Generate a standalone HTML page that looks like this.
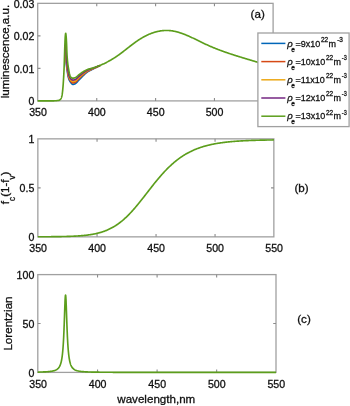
<!DOCTYPE html><html><head><meta charset="utf-8"><style>html,body{margin:0;padding:0;background:#fff;width:350px;height:406px;overflow:hidden}svg{display:block;font-family:"Liberation Sans",sans-serif}</style></head><body>
<svg width="350" height="406" viewBox="0 0 350 406">
<defs><filter id="bl" x="0" y="0" width="100%" height="100%" filterUnits="userSpaceOnUse"><feGaussianBlur stdDeviation="0.28"/></filter></defs>
<rect width="350" height="406" fill="#fff"/>
<g filter="url(#bl)"><style>text{stroke:#111111;stroke-width:0.3px;paint-order:stroke}</style>
<text x="38" y="115.55" text-anchor="middle" font-size="10.6" fill="#111111">350</text>
<text x="96.85" y="115.55" text-anchor="middle" font-size="10.6" fill="#111111">400</text>
<text x="155.7" y="115.55" text-anchor="middle" font-size="10.6" fill="#111111">450</text>
<text x="214.55" y="115.55" text-anchor="middle" font-size="10.6" fill="#111111">500</text>
<text x="273.4" y="115.55" text-anchor="middle" font-size="10.6" fill="#111111">550</text>
<text x="34.3" y="105.24" text-anchor="end" font-size="10.6" fill="#111111">0</text>
<text x="34.3" y="72.73" text-anchor="end" font-size="10.6" fill="#111111">0.01</text>
<text x="34.3" y="40.21" text-anchor="end" font-size="10.6" fill="#111111">0.02</text>
<text x="34.3" y="7.69" text-anchor="end" font-size="10.6" fill="#111111">0.03</text>
<rect x="37.7" y="3.35" width="235.4" height="97.55" fill="none" stroke="#a0a0a0" stroke-width="1.3"/>
<path d="M96.75 100.9V98.1M96.75 3.35V6.15" stroke="#8c8c8c" stroke-width="1.1" fill="none"/>
<path d="M155.6 100.9V98.1M155.6 3.35V6.15" stroke="#8c8c8c" stroke-width="1.1" fill="none"/>
<path d="M214.45 100.9V98.1M214.45 3.35V6.15" stroke="#8c8c8c" stroke-width="1.1" fill="none"/>
<path d="M37.7 68.38H40.5M273.1 68.38H270.3" stroke="#8c8c8c" stroke-width="1.1" fill="none"/>
<path d="M37.7 35.87H40.5M273.1 35.87H270.3" stroke="#8c8c8c" stroke-width="1.1" fill="none"/>
<path d="M64.9 48L65 48L65.1 48L65.2 48L65.3 48L65.4 48L65.5 48L65.6 48L65.7 48L65.8 48L65.9 51.05L66 56.91L66.1 59.93L66.2 61.89L66.3 63.33L66.4 64.48L66.5 65.46L66.6 66.34L66.7 67.15L66.8 67.91L66.9 68.63L67 69.34L67.1 70.03L67.2 70.71L67.3 71.4L67.4 72.08L67.5 72.76L67.6 73.41L67.7 74.04L67.8 74.65L67.9 75.22L68 75.75L68.1 76.23L68.2 76.67L68.3 77.07L68.4 77.46L68.5 77.85L68.6 78.22L68.7 78.56L68.8 78.87L68.9 79.16L69 79.43L69.1 79.68L69.2 79.91L69.3 80.13L69.4 80.33L69.5 80.53L69.6 80.71L69.7 80.89L69.8 81.06L69.9 81.23L70 81.39L70.1 81.55L70.2 81.71L70.3 81.86L70.4 82.01L70.5 82.16L70.6 82.3L70.7 82.43L70.8 82.56L70.9 82.69L71 82.82L71.1 82.95L71.2 83.08L71.3 83.2L71.4 83.32L71.5 83.44L71.6 83.56L71.7 83.66L71.8 83.77L71.9 83.87L72 83.96L72.1 84.04L72.2 84.12L72.3 84.18L72.4 84.24L72.5 84.3L72.6 84.34L72.7 84.37L72.8 84.39L72.9 84.4L73 84.4L73.1 84.39L73.2 84.38L73.3 84.37L73.4 84.36L73.5 84.34L73.6 84.32L73.7 84.3L73.8 84.27L73.9 84.24L74 84.21L74.1 84.18L74.2 84.15L74.3 84.11L74.4 84.07L74.5 84.04L74.6 84L74.7 83.95L74.8 83.91L74.9 83.87L75 83.82L75.1 83.78L75.2 83.73L75.3 83.68L75.4 83.62L75.5 83.56L75.6 83.5L75.7 83.43L75.8 83.35L75.9 83.27L76 83.19L76.5 82.73L77 82.21L77.5 81.65L78 81.07L78.5 80.5L79 79.96L79.5 79.44L80 78.92L80.5 78.39L81 77.87L81.5 77.34L82 76.82L82.5 76.3L83 75.8L83.5 75.32L84 74.85L84.5 74.38L85 73.92L85.5 73.48L86 73.05L86.5 72.65L87 72.27L87.5 71.92L88 71.6L88.5 71.29L89 71.01L89.5 70.75L90 70.49L90.5 70.25L91 70L91.5 69.75L92 69.5L92.5 69.25L93 69L93.5 68.75L94 68.5L94.5 68.26L95 68.01L95.5 67.77L96 67.54L96.5 67.3L97 67.06L97.5 66.83L98 66.59L98.5 66.36L99 66.13L99.5 65.89L100 65.66" fill="none" stroke="#0066B8" stroke-width="1.65" stroke-linejoin="round"/>
<path d="M64.9 46.5L65 46.5L65.1 46.5L65.2 46.5L65.3 46.5L65.4 46.5L65.5 46.5L65.6 46.5L65.7 46.5L65.8 46.5L65.9 46.5L66 53.25L66.1 56.94L66.2 59.18L66.3 60.79L66.4 62.06L66.5 63.15L66.6 64.13L66.7 65.02L66.8 65.86L66.9 66.64L67 67.39L67.1 68.1L67.2 68.8L67.3 69.47L67.4 70.14L67.5 70.81L67.6 71.48L67.7 72.14L67.8 72.79L67.9 73.42L68 74.02L68.1 74.59L68.2 75.13L68.3 75.61L68.4 76.05L68.5 76.44L68.6 76.81L68.7 77.16L68.8 77.48L68.9 77.78L69 78.06L69.1 78.32L69.2 78.57L69.3 78.8L69.4 79.01L69.5 79.22L69.6 79.41L69.7 79.6L69.8 79.78L69.9 79.95L70 80.12L70.1 80.29L70.2 80.45L70.3 80.6L70.4 80.75L70.5 80.89L70.6 81.03L70.7 81.16L70.8 81.28L70.9 81.39L71 81.51L71.1 81.62L71.2 81.73L71.3 81.84L71.4 81.95L71.5 82.06L71.6 82.16L71.7 82.25L71.8 82.34L71.9 82.43L72 82.51L72.1 82.58L72.2 82.65L72.3 82.71L72.4 82.76L72.5 82.81L72.6 82.85L72.7 82.87L72.8 82.89L72.9 82.9L73 82.9L73.1 82.89L73.2 82.89L73.3 82.87L73.4 82.86L73.5 82.84L73.6 82.82L73.7 82.8L73.8 82.78L73.9 82.75L74 82.72L74.1 82.69L74.2 82.66L74.3 82.62L74.4 82.59L74.5 82.55L74.6 82.51L74.7 82.47L74.8 82.43L74.9 82.39L75 82.35L75.1 82.31L75.2 82.26L75.3 82.22L75.4 82.16L75.5 82.1L75.6 82.04L75.7 81.97L75.8 81.9L75.9 81.83L76 81.75L76.5 81.31L77 80.82L77.5 80.28L78 79.73L78.5 79.19L79 78.68L79.5 78.2L80 77.72L80.5 77.23L81 76.74L81.5 76.25L82 75.77L82.5 75.3L83 74.84L83.5 74.4L84 73.97L84.5 73.55L85 73.13L85.5 72.73L86 72.34L86.5 71.98L87 71.64L87.5 71.33L88 71.04L88.5 70.78L89 70.53L89.5 70.3L90 70.08L90.5 69.86L91 69.64L91.5 69.42L92 69.2L92.5 68.98L93 68.75L93.5 68.52L94 68.29L94.5 68.07L95 67.84L95.5 67.62L96 67.39L96.5 67.17L97 66.95L97.5 66.72L98 66.5L98.5 66.28L99 66.05L99.5 65.83L100 65.6" fill="none" stroke="#D64A12" stroke-width="1.65" stroke-linejoin="round"/>
<path d="M64.9 45.5L65 45.5L65.1 45.5L65.2 45.5L65.3 45.5L65.4 45.5L65.5 45.5L65.6 45.5L65.7 45.5L65.8 45.5L65.9 45.5L66 48.81L66.1 53.81L66.2 56.49L66.3 58.34L66.4 59.8L66.5 61.02L66.6 62.09L66.7 63.08L66.8 64L66.9 64.85L67 65.66L67.1 66.42L67.2 67.14L67.3 67.84L67.4 68.52L67.5 69.18L67.6 69.83L67.7 70.49L67.8 71.14L67.9 71.78L68 72.41L68.1 73.02L68.2 73.61L68.3 74.16L68.4 74.67L68.5 75.14L68.6 75.55L68.7 75.9L68.8 76.22L68.9 76.52L69 76.81L69.1 77.08L69.2 77.33L69.3 77.57L69.4 77.79L69.5 78L69.6 78.21L69.7 78.4L69.8 78.59L69.9 78.77L70 78.94L70.1 79.11L70.2 79.27L70.3 79.42L70.4 79.57L70.5 79.71L70.6 79.84L70.7 79.97L70.8 80.08L70.9 80.19L71 80.29L71.1 80.38L71.2 80.48L71.3 80.58L71.4 80.67L71.5 80.76L71.6 80.85L71.7 80.93L71.8 81.01L71.9 81.09L72 81.16L72.1 81.23L72.2 81.28L72.3 81.34L72.4 81.38L72.5 81.42L72.6 81.45L72.7 81.48L72.8 81.49L72.9 81.5L73 81.5L73.1 81.49L73.2 81.49L73.3 81.47L73.4 81.46L73.5 81.44L73.6 81.43L73.7 81.4L73.8 81.38L73.9 81.35L74 81.33L74.1 81.3L74.2 81.27L74.3 81.23L74.4 81.2L74.5 81.16L74.6 81.13L74.7 81.09L74.8 81.05L74.9 81.01L75 80.98L75.1 80.94L75.2 80.89L75.3 80.85L75.4 80.8L75.5 80.74L75.6 80.68L75.7 80.62L75.8 80.55L75.9 80.48L76 80.41L76.5 79.99L77 79.51L77.5 79L78 78.48L78.5 77.97L79 77.49L79.5 77.04L80 76.59L80.5 76.14L81 75.68L81.5 75.23L82 74.79L82.5 74.36L83 73.94L83.5 73.54L84 73.15L84.5 72.77L85 72.4L85.5 72.03L86 71.68L86.5 71.36L87 71.06L87.5 70.78L88 70.53L88.5 70.3L89 70.08L89.5 69.88L90 69.69L90.5 69.5L91 69.31L91.5 69.12L92 68.92L92.5 68.72L93 68.51L93.5 68.3L94 68.09L94.5 67.89L95 67.68L95.5 67.47L96 67.26L96.5 67.05L97 66.84L97.5 66.63L98 66.41L98.5 66.2L99 65.98L99.5 65.77L100 65.55" fill="none" stroke="#ECA816" stroke-width="1.65" stroke-linejoin="round"/>
<path d="M64.9 44.5L65 44.5L65.1 44.5L65.2 44.5L65.3 44.5L65.4 44.5L65.5 44.5L65.6 44.5L65.7 44.5L65.8 44.5L65.9 44.5L66 44.5L66.1 48.98L66.2 52.87L66.3 55.36L66.4 57.09L66.5 58.53L66.6 59.79L66.7 60.9L66.8 61.92L66.9 62.87L67 63.76L67.1 64.59L67.2 65.38L67.3 66.12L67.4 66.83L67.5 67.51L67.6 68.17L67.7 68.81L67.8 69.45L67.9 70.08L68 70.72L68.1 71.34L68.2 71.95L68.3 72.54L68.4 73.11L68.5 73.64L68.6 74.12L68.7 74.55L68.8 74.92L68.9 75.23L69 75.52L69.1 75.79L69.2 76.05L69.3 76.3L69.4 76.53L69.5 76.76L69.6 76.97L69.7 77.17L69.8 77.37L69.9 77.55L70 77.73L70.1 77.9L70.2 78.07L70.3 78.23L70.4 78.38L70.5 78.52L70.6 78.65L70.7 78.77L70.8 78.88L70.9 78.98L71 79.06L71.1 79.15L71.2 79.23L71.3 79.31L71.4 79.39L71.5 79.47L71.6 79.55L71.7 79.62L71.8 79.69L71.9 79.75L72 79.81L72.1 79.87L72.2 79.92L72.3 79.96L72.4 80L72.5 80.04L72.6 80.06L72.7 80.08L72.8 80.09L72.9 80.1L73 80.1L73.1 80.09L73.2 80.09L73.3 80.08L73.4 80.06L73.5 80.05L73.6 80.03L73.7 80.01L73.8 79.98L73.9 79.96L74 79.93L74.1 79.91L74.2 79.88L74.3 79.84L74.4 79.81L74.5 79.78L74.6 79.74L74.7 79.71L74.8 79.67L74.9 79.64L75 79.6L75.1 79.56L75.2 79.52L75.3 79.48L75.4 79.43L75.5 79.38L75.6 79.32L75.7 79.26L75.8 79.2L75.9 79.13L76 79.06L76.5 78.66L77 78.21L77.5 77.72L78 77.23L78.5 76.74L79 76.29L79.5 75.88L80 75.46L80.5 75.05L81 74.63L81.5 74.22L82 73.82L82.5 73.42L83 73.04L83.5 72.68L84 72.34L84.5 71.99L85 71.66L85.5 71.33L86 71.02L86.5 70.74L87 70.47L87.5 70.23L88 70.01L88.5 69.82L89 69.64L89.5 69.47L90 69.3L90.5 69.14L91 68.98L91.5 68.81L92 68.64L92.5 68.46L93 68.28L93.5 68.09L94 67.9L94.5 67.71L95 67.51L95.5 67.32L96 67.13L96.5 66.93L97 66.73L97.5 66.53L98 66.33L98.5 66.12L99 65.91L99.5 65.7L100 65.49" fill="none" stroke="#742582" stroke-width="1.65" stroke-linejoin="round"/>
<path d="M37.7 100.9L38.7 100.9L39.7 100.9L40.7 100.9L41.7 100.9L42.7 100.9L43.7 100.9L44.7 100.9L45.7 100.9L46.7 100.9L47.7 100.9L48.7 100.9L49.7 100.9L50.7 100.9L51.7 100.88L52.7 100.85L53.7 100.81L54.7 100.77L55.7 100.72L56.7 100.64L57.7 100.53L58.7 100.38L59.7 99.94L60 99.71L60.1 99.63L60.2 99.54L60.3 99.45L60.4 99.35L60.5 99.25L60.6 99.15L60.7 99.03L60.8 98.92L60.9 98.8L61 98.66L61.1 98.48L61.2 98.27L61.3 98.03L61.4 97.75L61.5 97.44L61.6 97.1L61.7 96.74L61.8 96.35L61.9 95.94L62 95.5L62.1 94.99L62.2 94.38L62.3 93.67L62.4 92.87L62.5 92L62.6 91.06L62.7 90.08L62.8 89.05L62.9 88L63 86.87L63.1 85.62L63.2 84.26L63.3 82.8L63.4 81.26L63.5 79.66L63.6 78L63.7 76.27L63.8 74.43L63.9 72.45L64 70.32L64.1 68L64.2 65.33L64.3 62.29L64.4 59.11L64.5 56L64.6 52.89L64.7 49.7L64.8 46.66L64.9 44L65 41.59L65.1 39.3L65.2 37.37L65.3 36L65.4 35.01L65.5 34.15L65.6 33.53L65.7 33.3L65.8 33.55L65.9 34.18L66 35.05L66.1 36L66.2 37.11L66.3 38.53L66.4 40.19L66.5 42L66.6 44.25L66.7 47.02L66.8 49.93L66.9 52.61L67 54.7L67.1 56.27L67.2 57.66L67.3 58.91L67.4 60.03L67.5 61.05L67.6 62L67.7 62.89L67.8 63.73L67.9 64.51L68 65.25L68.1 65.95L68.2 66.62L68.3 67.26L68.4 67.89L68.5 68.5L68.6 69.11L68.7 69.72L68.8 70.32L68.9 70.91L69 71.48L69.1 72.03L69.2 72.55L69.3 73.03L69.4 73.47L69.5 73.86L69.6 74.2L69.7 74.51L69.8 74.8L69.9 75.09L70 75.37L70.1 75.63L70.2 75.89L70.3 76.12L70.4 76.35L70.5 76.56L70.6 76.75L70.7 76.92L70.8 77.07L70.9 77.2L71 77.31L71.1 77.4L71.2 77.47L71.3 77.55L71.4 77.62L71.5 77.68L71.6 77.75L71.7 77.81L71.8 77.87L71.9 77.92L72 77.97L72.1 78.01L72.2 78.06L72.3 78.09L72.4 78.12L72.5 78.15L72.6 78.17L72.7 78.19L72.8 78.2L72.9 78.2L73 78.2L73.1 78.19L73.2 78.19L73.3 78.18L73.4 78.16L73.5 78.15L73.6 78.13L73.7 78.11L73.8 78.09L73.9 78.07L74 78.04L74.1 78.02L74.2 77.99L74.3 77.96L74.4 77.93L74.5 77.9L74.6 77.87L74.7 77.83L74.8 77.8L74.9 77.77L75 77.73L75.1 77.7L75.2 77.66L75.3 77.62L75.4 77.58L75.5 77.53L75.6 77.48L75.7 77.42L75.8 77.36L75.9 77.3L76 77.23L76.5 76.86L77 76.44L77.5 75.99L78 75.53L78.5 75.08L79 74.67L79.5 74.31L80 73.94L80.5 73.57L81 73.2L81.5 72.84L82 72.49L82.5 72.15L83 71.83L83.5 71.52L84 71.23L84.5 70.94L85 70.65L85.5 70.38L86 70.13L86.5 69.89L87 69.68L87.5 69.49L88 69.31L88.5 69.16L89 69.03L89.5 68.9L90 68.78L90.5 68.66L91 68.53L91.5 68.4L92 68.26L92.5 68.11L93 67.95L93.5 67.79L94 67.63L94.5 67.46L95 67.29L95.5 67.12L96 66.94L96.5 66.77L97 66.58L97.5 66.4L98 66.21L98.5 66.02L99 65.82L99.5 65.62L100 65.42L100.5 65.21L101 65L101.5 64.78L102 64.56L102.5 64.34L103 64.11L103.5 63.88L104 63.64L104.5 63.4L105 63.16L105.5 62.91L106 62.66L106.5 62.4L107 62.14L107.5 61.88L108 61.61L108.5 61.34L109 61.06L109.5 60.78L110 60.5L110.5 60.21L111 59.92L111.5 59.62L112 59.32L112.5 59.02L113 58.71L113.5 58.4L114 58.09L114.5 57.77L115 57.44L115.5 57.12L116 56.78L116.5 56.45L117 56.11L117.5 55.77L118 55.42L118.5 55.07L119 54.72L119.5 54.36L120 53.99L120.5 53.63L121 53.26L121.5 52.88L122 52.51L122.5 52.13L123 51.75L123.5 51.36L124 50.97L124.5 50.59L125 50.2L125.5 49.81L126 49.41L126.5 49.02L127 48.63L127.5 48.23L128 47.84L128.5 47.45L129 47.06L129.5 46.66L130 46.27L130.5 45.88L131 45.5L131.5 45.11L132 44.73L132.5 44.35L133 43.97L133.5 43.59L134 43.22L134.5 42.85L135 42.49L135.5 42.13L136 41.77L136.5 41.42L137 41.07L137.5 40.73L138 40.39L138.5 40.06L139 39.73L139.5 39.41L140 39.09L140.5 38.78L141 38.48L141.5 38.18L142 37.88L142.5 37.59L143 37.31L143.5 37.03L144 36.75L144.5 36.49L145 36.22L145.5 35.97L146 35.71L146.5 35.47L147 35.23L147.5 34.99L148 34.76L148.5 34.54L149 34.32L149.5 34.11L150 33.9L150.5 33.7L151 33.51L151.5 33.32L152 33.13L152.5 32.96L153 32.79L153.5 32.62L154 32.46L154.5 32.31L155 32.16L155.5 32.02L156 31.88L156.5 31.75L157 31.63L157.5 31.51L158 31.4L158.5 31.29L159 31.19L159.5 31.1L160 31.01L160.5 30.93L161 30.86L161.5 30.79L162 30.73L162.5 30.67L163 30.62L163.5 30.58L164 30.54L164.5 30.51L165 30.49L165.5 30.47L166 30.46L166.5 30.46L167 30.46L167.5 30.47L168 30.49L168.5 30.51L169 30.54L169.5 30.58L170 30.62L170.5 30.67L171 30.73L171.5 30.79L172 30.86L172.5 30.93L173 31.02L173.5 31.11L174 31.2L174.5 31.3L175 31.41L175.5 31.52L176 31.64L176.5 31.76L177 31.89L177.5 32.02L178 32.16L178.5 32.31L179 32.45L179.5 32.61L180 32.77L180.5 32.93L181 33.1L181.5 33.27L182 33.44L182.5 33.62L183 33.81L183.5 34L184 34.19L184.5 34.38L185 34.58L185.5 34.78L186 34.98L186.5 35.19L187 35.4L187.5 35.62L188 35.83L188.5 36.05L189 36.27L189.5 36.5L190 36.72L190.5 36.95L191 37.18L191.5 37.41L192 37.64L192.5 37.88L193 38.12L193.5 38.35L194 38.59L194.5 38.83L195 39.07L195.5 39.32L196 39.56L196.5 39.8L197 40.05L197.5 40.29L198 40.54L198.5 40.78L199 41.03L199.5 41.27L200 41.52L200.5 41.76L201 42L201.5 42.25L202 42.49L202.5 42.73L203 42.97L203.5 43.21L204 43.45L204.5 43.69L205 43.92L205.5 44.16L206 44.39L206.5 44.62L207 44.85L207.5 45.08L208 45.3L208.5 45.53L209 45.75L209.5 45.97L210 46.19L210.5 46.4L211 46.62L211.5 46.83L212 47.04L212.5 47.25L213 47.46L213.5 47.67L214 47.87L214.5 48.08L215 48.28L215.5 48.48L216 48.68L216.5 48.88L217 49.07L217.5 49.27L218 49.46L218.5 49.65L219 49.84L219.5 50.03L220 50.22L220.5 50.41L221 50.59L221.5 50.78L222 50.96L222.5 51.14L223 51.32L223.5 51.5L224 51.68L224.5 51.86L225 52.04L225.5 52.21L226 52.38L226.5 52.56L227 52.73L227.5 52.9L228 53.07L228.5 53.24L229 53.41L229.5 53.58L230 53.74L230.5 53.91L231 54.07L231.5 54.24L232 54.4L232.5 54.56L233 54.73L233.5 54.89L234 55.05L234.5 55.21L235 55.37L235.5 55.52L236 55.68L236.5 55.84L237 56L237.5 56.15L238 56.31L238.5 56.46L239 56.62L239.5 56.77L240 56.93L240.5 57.08L241 57.23L241.5 57.38L242 57.54L242.5 57.69L243 57.84L243.5 57.99L244 58.14L244.5 58.29L245 58.44L245.5 58.59L246 58.75L246.5 58.9L247 59.05L247.5 59.2L248 59.35L248.5 59.49L249 59.64L249.5 59.79L250 59.94L250.5 60.09L251 60.24L251.5 60.39L252 60.54L252.5 60.69L253 60.84L253.5 60.99L254 61.14L254.5 61.3L255 61.45L255.5 61.6L256 61.75L256.5 61.9L257 62.05L257.5 62.21L258 62.36L258.5 62.51L259 62.67L259.5 62.82L260 62.97L260.5 63.13L261 63.28L261.5 63.44L262 63.6L262.5 63.75L263 63.91L263.5 64.07L264 64.23L264.5 64.39L265 64.55L265.5 64.71L266 64.87L266.5 65.03L267 65.19L267.5 65.36L268 65.52L268.5 65.69L269 65.85L269.5 66.02L270 66.19L270.5 66.36L271 66.53L271.5 66.7L272 66.87L272.5 67.04L273 67.22" fill="none" stroke="#5C9E1C" stroke-width="1.65" stroke-linejoin="round"/>
<text x="257.7" y="18.3" text-anchor="middle" font-size="11.6" fill="#111111">(a)</text>
<text transform="translate(8.6 51.52) rotate(-90)" text-anchor="middle" font-size="11.6" fill="#111111">luminescence,a.u.</text>
<text x="38.15" y="251.95" text-anchor="middle" font-size="10.6" fill="#111111">350</text>
<text x="97.15" y="251.95" text-anchor="middle" font-size="10.6" fill="#111111">400</text>
<text x="156.15" y="251.95" text-anchor="middle" font-size="10.6" fill="#111111">450</text>
<text x="215.15" y="251.95" text-anchor="middle" font-size="10.6" fill="#111111">500</text>
<text x="274.15" y="251.95" text-anchor="middle" font-size="10.6" fill="#111111">550</text>
<text x="34.3" y="241.14" text-anchor="end" font-size="10.6" fill="#111111">0</text>
<text x="34.3" y="192.14" text-anchor="end" font-size="10.6" fill="#111111">0.5</text>
<text x="34.3" y="143.14" text-anchor="end" font-size="10.6" fill="#111111">1</text>
<rect x="37.85" y="138.85" width="236" height="98" fill="none" stroke="#a0a0a0" stroke-width="1.3"/>
<path d="M97.05 236.85V234.05M97.05 138.85V141.65" stroke="#8c8c8c" stroke-width="1.1" fill="none"/>
<path d="M156.05 236.85V234.05M156.05 138.85V141.65" stroke="#8c8c8c" stroke-width="1.1" fill="none"/>
<path d="M215.05 236.85V234.05M215.05 138.85V141.65" stroke="#8c8c8c" stroke-width="1.1" fill="none"/>
<path d="M37.85 187.85H40.65M273.85 187.85H271.05" stroke="#8c8c8c" stroke-width="1.1" fill="none"/>
<path d="M37.85 236.76L38.35 236.76L38.85 236.76L39.35 236.76L39.85 236.76L40.35 236.76L40.85 236.75L41.35 236.75L41.85 236.75L42.35 236.75L42.85 236.75L43.35 236.74L43.85 236.74L44.35 236.74L44.85 236.74L45.35 236.73L45.85 236.73L46.35 236.73L46.85 236.72L47.35 236.72L47.85 236.72L48.35 236.72L48.85 236.71L49.35 236.71L49.85 236.7L50.35 236.7L50.85 236.7L51.35 236.69L51.85 236.69L52.35 236.68L52.85 236.68L53.35 236.67L53.85 236.67L54.35 236.66L54.85 236.66L55.35 236.65L55.85 236.65L56.35 236.64L56.85 236.63L57.35 236.63L57.85 236.62L58.35 236.61L58.85 236.6L59.35 236.6L59.85 236.59L60.35 236.58L60.85 236.57L61.35 236.56L61.85 236.55L62.35 236.54L62.85 236.53L63.35 236.52L63.85 236.51L64.35 236.5L64.85 236.49L65.35 236.47L65.85 236.46L66.35 236.45L66.85 236.43L67.35 236.42L67.85 236.41L68.35 236.39L68.85 236.37L69.35 236.36L69.85 236.34L70.35 236.32L70.85 236.3L71.35 236.28L71.85 236.26L72.35 236.24L72.85 236.22L73.35 236.2L73.85 236.17L74.35 236.15L74.85 236.12L75.35 236.1L75.85 236.07L76.35 236.04L76.85 236.01L77.35 235.98L77.85 235.95L78.35 235.92L78.85 235.88L79.35 235.85L79.85 235.81L80.35 235.77L80.85 235.73L81.35 235.69L81.85 235.65L82.35 235.61L82.85 235.56L83.35 235.51L83.85 235.47L84.35 235.42L84.85 235.36L85.35 235.31L85.85 235.25L86.35 235.2L86.85 235.14L87.35 235.07L87.85 235.01L88.35 234.94L88.85 234.88L89.35 234.8L89.85 234.73L90.35 234.66L90.85 234.58L91.35 234.5L91.85 234.41L92.35 234.33L92.85 234.24L93.35 234.14L93.85 234.05L94.35 233.95L94.85 233.85L95.35 233.74L95.85 233.64L96.35 233.52L96.85 233.41L97.35 233.29L97.85 233.17L98.35 233.04L98.85 232.91L99.35 232.78L99.85 232.64L100.35 232.49L100.85 232.35L101.35 232.2L101.85 232.04L102.35 231.88L102.85 231.71L103.35 231.54L103.85 231.37L104.35 231.19L104.85 231L105.35 230.81L105.85 230.62L106.35 230.42L106.85 230.21L107.35 230L107.85 229.78L108.35 229.56L108.85 229.33L109.35 229.09L109.85 228.85L110.35 228.6L110.85 228.35L111.35 228.09L111.85 227.82L112.35 227.55L112.85 227.27L113.35 226.98L113.85 226.69L114.35 226.39L114.85 226.08L115.35 225.77L115.85 225.45L116.35 225.12L116.85 224.79L117.35 224.45L117.85 224.1L118.35 223.74L118.85 223.38L119.35 223.01L119.85 222.63L120.35 222.24L120.85 221.85L121.35 221.45L121.85 221.04L122.35 220.63L122.85 220.2L123.35 219.78L123.85 219.34L124.35 218.89L124.85 218.44L125.35 217.98L125.85 217.52L126.35 217.05L126.85 216.57L127.35 216.08L127.85 215.59L128.35 215.09L128.85 214.58L129.35 214.06L129.85 213.54L130.35 213.02L130.85 212.48L131.35 211.94L131.85 211.4L132.35 210.85L132.85 210.29L133.35 209.73L133.85 209.16L134.35 208.59L134.85 208.01L135.35 207.42L135.85 206.83L136.35 206.24L136.85 205.64L137.35 205.04L137.85 204.43L138.35 203.82L138.85 203.21L139.35 202.59L139.85 201.97L140.35 201.35L140.85 200.72L141.35 200.09L141.85 199.46L142.35 198.82L142.85 198.19L143.35 197.55L143.85 196.91L144.35 196.27L144.85 195.63L145.35 194.98L145.85 194.34L146.35 193.69L146.85 193.05L147.35 192.4L147.85 191.76L148.35 191.12L148.85 190.47L149.35 189.83L149.85 189.19L150.35 188.55L150.85 187.91L151.35 187.27L151.85 186.63L152.35 186L152.85 185.37L153.35 184.74L153.85 184.11L154.35 183.49L154.85 182.86L155.35 182.25L155.85 181.63L156.35 181.02L156.85 180.41L157.35 179.81L157.85 179.21L158.35 178.61L158.85 178.02L159.35 177.43L159.85 176.85L160.35 176.27L160.85 175.69L161.35 175.12L161.85 174.56L162.35 174L162.85 173.44L163.35 172.89L163.85 172.35L164.35 171.81L164.85 171.28L165.35 170.75L165.85 170.22L166.35 169.71L166.85 169.2L167.35 168.69L167.85 168.19L168.35 167.69L168.85 167.21L169.35 166.72L169.85 166.25L170.35 165.78L170.85 165.31L171.35 164.85L171.85 164.4L172.35 163.95L172.85 163.51L173.35 163.07L173.85 162.64L174.35 162.22L174.85 161.8L175.35 161.39L175.85 160.99L176.35 160.59L176.85 160.19L177.35 159.8L177.85 159.42L178.35 159.05L178.85 158.67L179.35 158.31L179.85 157.95L180.35 157.6L180.85 157.25L181.35 156.91L181.85 156.57L182.35 156.24L182.85 155.91L183.35 155.59L183.85 155.28L184.35 154.97L184.85 154.66L185.35 154.36L185.85 154.07L186.35 153.78L186.85 153.49L187.35 153.22L187.85 152.94L188.35 152.67L188.85 152.41L189.35 152.15L189.85 151.89L190.35 151.64L190.85 151.4L191.35 151.15L191.85 150.92L192.35 150.68L192.85 150.46L193.35 150.23L193.85 150.01L194.35 149.8L194.85 149.58L195.35 149.38L195.85 149.17L196.35 148.97L196.85 148.78L197.35 148.59L197.85 148.4L198.35 148.21L198.85 148.03L199.35 147.85L199.85 147.68L200.35 147.51L200.85 147.34L201.35 147.18L201.85 147.02L202.35 146.86L202.85 146.7L203.35 146.55L203.85 146.41L204.35 146.26L204.85 146.12L205.35 145.98L205.85 145.84L206.35 145.71L206.85 145.58L207.35 145.45L207.85 145.32L208.35 145.2L208.85 145.08L209.35 144.96L209.85 144.85L210.35 144.73L210.85 144.62L211.35 144.51L211.85 144.41L212.35 144.3L212.85 144.2L213.35 144.1L213.85 144L214.35 143.91L214.85 143.81L215.35 143.72L215.85 143.63L216.35 143.55L216.85 143.46L217.35 143.38L217.85 143.29L218.35 143.21L218.85 143.13L219.35 143.06L219.85 142.98L220.35 142.91L220.85 142.84L221.35 142.76L221.85 142.7L222.35 142.63L222.85 142.56L223.35 142.5L223.85 142.43L224.35 142.37L224.85 142.31L225.35 142.25L225.85 142.19L226.35 142.14L226.85 142.08L227.35 142.03L227.85 141.97L228.35 141.92L228.85 141.87L229.35 141.82L229.85 141.77L230.35 141.73L230.85 141.68L231.35 141.63L231.85 141.59L232.35 141.55L232.85 141.5L233.35 141.46L233.85 141.42L234.35 141.38L234.85 141.34L235.35 141.3L235.85 141.27L236.35 141.23L236.85 141.19L237.35 141.16L237.85 141.13L238.35 141.09L238.85 141.06L239.35 141.03L239.85 141L240.35 140.97L240.85 140.94L241.35 140.91L241.85 140.88L242.35 140.85L242.85 140.82L243.35 140.8L243.85 140.77L244.35 140.75L244.85 140.72L245.35 140.7L245.85 140.67L246.35 140.65L246.85 140.63L247.35 140.6L247.85 140.58L248.35 140.56L248.85 140.54L249.35 140.52L249.85 140.5L250.35 140.48L250.85 140.46L251.35 140.44L251.85 140.43L252.35 140.41L252.85 140.39L253.35 140.37L253.85 140.36L254.35 140.34L254.85 140.33L255.35 140.31L255.85 140.29L256.35 140.28L256.85 140.27L257.35 140.25L257.85 140.24L258.35 140.22L258.85 140.21L259.35 140.2L259.85 140.19L260.35 140.17L260.85 140.16L261.35 140.15L261.85 140.14L262.35 140.13L262.85 140.12L263.35 140.1L263.85 140.09L264.35 140.08L264.85 140.07L265.35 140.06L265.85 140.05L266.35 140.05L266.85 140.04L267.35 140.03L267.85 140.02L268.35 140.01L268.85 140L269.35 139.99L269.85 139.99L270.35 139.98L270.85 139.97L271.35 139.96L271.85 139.95L272.35 139.95L272.85 139.94L273.35 139.93L273.85 139.93" fill="none" stroke="#5C9E1C" stroke-width="1.65"/>
<text x="301.5" y="192.3" text-anchor="middle" font-size="11.6" fill="#111111">(b)</text>
<text transform="translate(9.4 187.85) rotate(-90)" text-anchor="middle" font-size="11.6" fill="#111111">f<tspan font-size="8.2" dy="5.3">c</tspan><tspan dy="-5.3">(1-f</tspan><tspan font-size="8.2" dy="5.3">v</tspan><tspan dy="-5.3">)</tspan></text>
<text x="38.1" y="387.5" text-anchor="middle" font-size="10.6" fill="#111111">350</text>
<text x="97.65" y="387.5" text-anchor="middle" font-size="10.6" fill="#111111">400</text>
<text x="157.2" y="387.5" text-anchor="middle" font-size="10.6" fill="#111111">450</text>
<text x="216.75" y="387.5" text-anchor="middle" font-size="10.6" fill="#111111">500</text>
<text x="276.3" y="387.5" text-anchor="middle" font-size="10.6" fill="#111111">550</text>
<text x="34.3" y="377.19" text-anchor="end" font-size="10.6" fill="#111111">0</text>
<text x="34.3" y="328.29" text-anchor="end" font-size="10.6" fill="#111111">50</text>
<text x="34.3" y="279.39" text-anchor="end" font-size="10.6" fill="#111111">100</text>
<rect x="37.8" y="274.6" width="238.2" height="97.8" fill="none" stroke="#a0a0a0" stroke-width="1.3"/>
<path d="M97.55 372.4V369.6M97.55 274.6V277.4" stroke="#8c8c8c" stroke-width="1.1" fill="none"/>
<path d="M157.1 372.4V369.6M157.1 274.6V277.4" stroke="#8c8c8c" stroke-width="1.1" fill="none"/>
<path d="M216.65 372.4V369.6M216.65 274.6V277.4" stroke="#8c8c8c" stroke-width="1.1" fill="none"/>
<path d="M37.8 323.5H40.6M276 323.5H273.2" stroke="#8c8c8c" stroke-width="1.1" fill="none"/>
<path d="M37.8 372.1L38.3 372.09L38.8 372.08L39.3 372.07L39.8 372.05L40.3 372.04L40.8 372.03L41.3 372.01L41.8 371.99L42.3 371.98L42.8 371.96L43.3 371.94L43.8 371.92L44.3 371.89L44.8 371.87L45.3 371.84L45.8 371.81L46.3 371.78L46.8 371.75L47.3 371.71L47.8 371.68L48.3 371.63L48.8 371.59L49.3 371.54L49.8 371.48L50.3 371.42L50.8 371.36L51.3 371.28L51.8 371.2L52.3 371.11L52.8 371.01L53.3 370.89L53.8 370.77L54.3 370.62L54.8 370.46L55.3 370.27L55.8 370.05L56.3 369.8L56.8 369.5L57.3 369.16L57.8 368.75L58.3 368.25L58.8 367.65L59.3 366.92L59.8 366.01L60 365.58L60.05 365.47L60.1 365.35L60.15 365.23L60.2 365.11L60.25 364.99L60.3 364.86L60.35 364.73L60.4 364.59L60.45 364.45L60.5 364.31L60.55 364.17L60.6 364.02L60.65 363.86L60.7 363.71L60.75 363.55L60.8 363.38L60.85 363.21L60.9 363.04L60.95 362.86L61 362.67L61.05 362.48L61.1 362.29L61.15 362.09L61.2 361.88L61.25 361.67L61.3 361.45L61.35 361.23L61.4 361L61.45 360.76L61.5 360.51L61.55 360.26L61.6 360L61.65 359.74L61.7 359.46L61.75 359.18L61.8 358.88L61.85 358.58L61.9 358.27L61.95 357.95L62 357.62L62.05 357.27L62.1 356.92L62.15 356.56L62.2 356.18L62.25 355.79L62.3 355.39L62.35 354.98L62.4 354.55L62.45 354.1L62.5 353.65L62.55 353.17L62.6 352.68L62.65 352.18L62.7 351.65L62.75 351.11L62.8 350.55L62.85 349.97L62.9 349.37L62.95 348.75L63 348.11L63.05 347.45L63.1 346.76L63.15 346.05L63.2 345.31L63.25 344.55L63.3 343.76L63.35 342.95L63.4 342.11L63.45 341.23L63.5 340.33L63.55 339.4L63.6 338.44L63.65 337.45L63.7 336.43L63.75 335.37L63.8 334.29L63.85 333.17L63.9 332.02L63.95 330.83L64 329.62L64.05 328.37L64.1 327.09L64.15 325.79L64.2 324.45L64.25 323.09L64.3 321.71L64.35 320.3L64.4 318.88L64.45 317.45L64.5 316L64.55 314.55L64.6 313.1L64.65 311.65L64.7 310.21L64.75 308.8L64.8 307.41L64.85 306.05L64.9 304.73L64.95 303.47L65 302.26L65.05 301.12L65.1 300.06L65.15 299.08L65.2 298.19L65.25 297.41L65.3 296.73L65.35 296.16L65.4 295.72L65.45 295.4L65.5 295.2L65.55 295.14L65.6 295.2L65.65 295.39L65.7 295.71L65.75 296.16L65.8 296.72L65.85 297.4L65.9 298.18L65.95 299.07L66 300.04L66.05 301.11L66.1 302.25L66.15 303.45L66.2 304.72L66.25 306.03L66.3 307.39L66.35 308.78L66.4 310.2L66.45 311.63L66.5 313.08L66.55 314.53L66.6 315.98L66.65 317.43L66.7 318.87L66.75 320.29L66.8 321.69L66.85 323.08L66.9 324.44L66.95 325.77L67 327.08L67.05 328.35L67.1 329.6L67.15 330.82L67.2 332L67.25 333.15L67.3 334.27L67.35 335.36L67.4 336.42L67.45 337.44L67.5 338.43L67.55 339.39L67.6 340.32L67.65 341.22L67.7 342.1L67.75 342.94L67.8 343.75L67.85 344.54L67.9 345.3L67.95 346.04L68 346.75L68.05 347.44L68.1 348.1L68.15 348.74L68.2 349.37L68.25 349.97L68.3 350.54L68.35 351.11L68.4 351.65L68.45 352.17L68.5 352.68L68.55 353.17L68.6 353.64L68.65 354.1L68.7 354.54L68.75 354.97L68.8 355.39L68.85 355.79L68.9 356.18L68.95 356.55L69 356.92L69.05 357.27L69.1 357.61L69.15 357.94L69.2 358.27L69.25 358.58L69.3 358.88L69.35 359.17L69.4 359.46L69.45 359.73L69.5 360L69.55 360.26L69.6 360.51L69.65 360.76L69.7 360.99L69.75 361.23L69.8 361.45L69.85 361.67L69.9 361.88L69.95 362.09L70 362.29L70.05 362.48L70.1 362.67L70.15 362.85L70.2 363.03L70.25 363.21L70.3 363.38L70.35 363.54L70.4 363.71L70.45 363.86L70.5 364.02L70.55 364.16L70.6 364.31L70.65 364.45L70.7 364.59L70.75 364.72L70.8 364.86L70.85 364.98L70.9 365.11L70.95 365.23L71 365.35L71.05 365.47L71.1 365.58L71.15 365.69L71.2 365.8L71.25 365.9L71.3 366.01L71.35 366.11L71.4 366.21L71.45 366.3L71.5 366.4L71.55 366.49L71.6 366.58L71.65 366.67L71.7 366.75L71.75 366.84L71.8 366.92L71.85 367L71.9 367.08L71.95 367.16L72 367.23L72.5 367.91L73 368.46L73.5 368.92L74 369.3L74.5 369.63L75 369.9L75.5 370.14L76 370.35L76.5 370.52L77 370.68L77.5 370.82L78 370.94L78.5 371.05L79 371.15L79.5 371.23L80 371.31L80.5 371.38L81 371.45L81.5 371.5L82 371.56L82.5 371.61L83 371.65L83.5 371.69L84 371.73L84.5 371.76L85 371.8L85.5 371.83L86 371.85L86.5 371.88L87 371.9L87.5 371.92L88 371.95L88.5 371.96L89 371.98L89.5 372L90 372.02L90.5 372.03L91 372.05L91.5 372.06L92 372.07L92.5 372.08L93 372.1L93.5 372.11L94 372.12L94.5 372.13L95 372.14L95.5 372.14L96 372.15L96.5 372.16L97 372.17L97.5 372.17L98 372.18L98.5 372.19L99 372.19L99.5 372.2L100 372.21L100.5 372.21L101 372.22L101.5 372.22L102 372.23L102.5 372.23L103 372.24L103.5 372.24L104 372.24L104.5 372.25L105 372.25L105.5 372.26L106 372.26L106.5 372.26L107 372.27L107.5 372.27L108 372.27L108.5 372.28L109 372.28L109.5 372.28L110 372.28L110.5 372.29L111 372.29L111.5 372.29L112 372.29L112.5 372.3L113 372.3L113.5 372.3L114 372.3L114.5 372.3L115 372.31L115.5 372.31L116 372.31L116.5 372.31L117 372.31L117.5 372.31L118 372.32L118.5 372.32L119 372.32L119.5 372.32L120 372.32L120.5 372.32L121 372.33L121.5 372.33L122 372.33L122.5 372.33L123 372.33L123.5 372.33L124 372.33L124.5 372.33L125 372.33L125.5 372.34L126 372.34L126.5 372.34L127 372.34L127.5 372.34L128 372.34L128.5 372.34L129 372.34L129.5 372.34L130 372.34L130.5 372.35L131 372.35L131.5 372.35L132 372.35L132.5 372.35L133 372.35L133.5 372.35L134 372.35L134.5 372.35L135 372.35L135.5 372.35L136 372.35L136.5 372.35L137 372.35L137.5 372.36L138 372.36L138.5 372.36L139 372.36L139.5 372.36L140 372.36L140.5 372.36L141 372.36L141.5 372.36L142 372.36L142.5 372.36L143 372.36L143.5 372.36L144 372.36L144.5 372.36L145 372.36L145.5 372.36L146 372.36L146.5 372.36L147 372.37L147.5 372.37L148 372.37L148.5 372.37L149 372.37L149.5 372.37L150 372.37L150.5 372.37L151 372.37L151.5 372.37L152 372.37L152.5 372.37L153 372.37L153.5 372.37L154 372.37L154.5 372.37L155 372.37L155.5 372.37L156 372.37L156.5 372.37L157 372.37L157.5 372.37L158 372.37L158.5 372.37L159 372.37L159.5 372.37L160 372.37L160.5 372.37L161 372.37L161.5 372.37L162 372.38L162.5 372.38L163 372.38L163.5 372.38L164 372.38L164.5 372.38L165 372.38L165.5 372.38L166 372.38L166.5 372.38L167 372.38L167.5 372.38L168 372.38L168.5 372.38L169 372.38L169.5 372.38L170 372.38L170.5 372.38L171 372.38L171.5 372.38L172 372.38L172.5 372.38L173 372.38L173.5 372.38L174 372.38L174.5 372.38L175 372.38L175.5 372.38L176 372.38L176.5 372.38L177 372.38L177.5 372.38L178 372.38L178.5 372.38L179 372.38L179.5 372.38L180 372.38L180.5 372.38L181 372.38L181.5 372.38L182 372.38L182.5 372.38L183 372.38L183.5 372.38L184 372.38L184.5 372.38L185 372.38L185.5 372.38L186 372.38L186.5 372.38L187 372.38L187.5 372.38L188 372.38L188.5 372.38L189 372.38L189.5 372.39L190 372.39L190.5 372.39L191 372.39L191.5 372.39L192 372.39L192.5 372.39L193 372.39L193.5 372.39L194 372.39L194.5 372.39L195 372.39L195.5 372.39L196 372.39L196.5 372.39L197 372.39L197.5 372.39L198 372.39L198.5 372.39L199 372.39L199.5 372.39L200 372.39L200.5 372.39L201 372.39L201.5 372.39L202 372.39L202.5 372.39L203 372.39L203.5 372.39L204 372.39L204.5 372.39L205 372.39L205.5 372.39L206 372.39L206.5 372.39L207 372.39L207.5 372.39L208 372.39L208.5 372.39L209 372.39L209.5 372.39L210 372.39L210.5 372.39L211 372.39L211.5 372.39L212 372.39L212.5 372.39L213 372.39L213.5 372.39L214 372.39L214.5 372.39L215 372.39L215.5 372.39L216 372.39L216.5 372.39L217 372.39L217.5 372.39L218 372.39L218.5 372.39L219 372.39L219.5 372.39L220 372.39L220.5 372.39L221 372.39L221.5 372.39L222 372.39L222.5 372.39L223 372.39L223.5 372.39L224 372.39L224.5 372.39L225 372.39L225.5 372.39L226 372.39L226.5 372.39L227 372.39L227.5 372.39L228 372.39L228.5 372.39L229 372.39L229.5 372.39L230 372.39L230.5 372.39L231 372.39L231.5 372.39L232 372.39L232.5 372.39L233 372.39L233.5 372.39L234 372.39L234.5 372.39L235 372.39L235.5 372.39L236 372.39L236.5 372.39L237 372.39L237.5 372.39L238 372.39L238.5 372.39L239 372.39L239.5 372.39L240 372.39L240.5 372.39L241 372.39L241.5 372.39L242 372.39L242.5 372.39L243 372.39L243.5 372.39L244 372.39L244.5 372.39L245 372.39L245.5 372.39L246 372.39L246.5 372.39L247 372.39L247.5 372.39L248 372.39L248.5 372.39L249 372.39L249.5 372.39L250 372.39L250.5 372.39L251 372.39L251.5 372.39L252 372.39L252.5 372.39L253 372.39L253.5 372.39L254 372.39L254.5 372.39L255 372.39L255.5 372.39L256 372.39L256.5 372.39L257 372.39L257.5 372.39L258 372.39L258.5 372.39L259 372.39L259.5 372.39L260 372.39L260.5 372.39L261 372.39L261.5 372.39L262 372.39L262.5 372.39L263 372.39L263.5 372.39L264 372.39L264.5 372.39L265 372.39L265.5 372.39L266 372.39L266.5 372.39L267 372.39L267.5 372.39L268 372.39L268.5 372.39L269 372.39L269.5 372.39L270 372.39L270.5 372.39L271 372.39L271.5 372.39L272 372.39L272.5 372.39L273 372.39L273.5 372.39L274 372.39L274.5 372.39L275 372.39L275.5 372.39L276 372.39" fill="none" stroke="#5C9E1C" stroke-width="1.65" stroke-linejoin="round"/>
<text x="304" y="323" text-anchor="middle" font-size="11.6" fill="#111111">(c)</text>
<text transform="translate(11.5 323.5) rotate(-90)" text-anchor="middle" font-size="11.6" fill="#111111">Lorentzian</text>
<text x="156.3" y="402.6" text-anchor="middle" font-size="11.6" fill="#111111">wavelength,nm</text>
<rect x="257.9" y="33" width="91.2" height="93.6" fill="#fff" stroke="#a0a0a0" stroke-width="1.3"/>
<path d="M261.3 43.4H285.4" stroke="#0066B8" stroke-width="1.5"/>
<g fill="#111111">
<text x="287.2" y="46.5" font-size="9.6" font-style="italic">&#961;</text>
<text x="291.3" y="51.5" font-size="6.9" textLength="3.62" lengthAdjust="spacingAndGlyphs">e</text>
<text x="295.6" y="46.5" font-size="9.6" textLength="24.77" lengthAdjust="spacingAndGlyphs">=9x10</text>
<text x="320.9" y="41.7" font-size="6.9" textLength="7.23" lengthAdjust="spacingAndGlyphs">22</text>
<text x="328.6" y="46.5" font-size="9.6" textLength="7.5" lengthAdjust="spacingAndGlyphs">m</text>
<text x="337.2" y="41.7" font-size="6.9" textLength="5.78" lengthAdjust="spacingAndGlyphs">-3</text>
</g>
<path d="M261.3 61.6H285.4" stroke="#D64A12" stroke-width="1.5"/>
<g fill="#111111">
<text x="287.2" y="64.7" font-size="9.6" font-style="italic">&#961;</text>
<text x="291.3" y="69.7" font-size="6.9" textLength="3.62" lengthAdjust="spacingAndGlyphs">e</text>
<text x="295.6" y="64.7" font-size="9.6" textLength="29.78" lengthAdjust="spacingAndGlyphs">=10x10</text>
<text x="325.9" y="59.9" font-size="6.9" textLength="7.23" lengthAdjust="spacingAndGlyphs">22</text>
<text x="333.6" y="64.7" font-size="9.6" textLength="7.5" lengthAdjust="spacingAndGlyphs">m</text>
<text x="341.8" y="59.9" font-size="6.9" textLength="4.91" lengthAdjust="spacingAndGlyphs">-3</text>
</g>
<path d="M261.3 79.8H285.4" stroke="#ECA816" stroke-width="1.5"/>
<g fill="#111111">
<text x="287.2" y="82.9" font-size="9.6" font-style="italic">&#961;</text>
<text x="291.3" y="87.9" font-size="6.9" textLength="3.62" lengthAdjust="spacingAndGlyphs">e</text>
<text x="295.6" y="82.9" font-size="9.6" textLength="29.11" lengthAdjust="spacingAndGlyphs">=11x10</text>
<text x="325.9" y="78.1" font-size="6.9" textLength="7.23" lengthAdjust="spacingAndGlyphs">22</text>
<text x="333.6" y="82.9" font-size="9.6" textLength="7.5" lengthAdjust="spacingAndGlyphs">m</text>
<text x="341.8" y="78.1" font-size="6.9" textLength="4.91" lengthAdjust="spacingAndGlyphs">-3</text>
</g>
<path d="M261.3 98H285.4" stroke="#742582" stroke-width="1.5"/>
<g fill="#111111">
<text x="287.2" y="101.1" font-size="9.6" font-style="italic">&#961;</text>
<text x="291.3" y="106.1" font-size="6.9" textLength="3.62" lengthAdjust="spacingAndGlyphs">e</text>
<text x="295.6" y="101.1" font-size="9.6" textLength="29.78" lengthAdjust="spacingAndGlyphs">=12x10</text>
<text x="325.9" y="96.3" font-size="6.9" textLength="7.23" lengthAdjust="spacingAndGlyphs">22</text>
<text x="333.6" y="101.1" font-size="9.6" textLength="7.5" lengthAdjust="spacingAndGlyphs">m</text>
<text x="341.8" y="96.3" font-size="6.9" textLength="4.91" lengthAdjust="spacingAndGlyphs">-3</text>
</g>
<path d="M261.3 116.2H285.4" stroke="#5C9E1C" stroke-width="1.5"/>
<g fill="#111111">
<text x="287.2" y="119.3" font-size="9.6" font-style="italic">&#961;</text>
<text x="291.3" y="124.3" font-size="6.9" textLength="3.62" lengthAdjust="spacingAndGlyphs">e</text>
<text x="295.6" y="119.3" font-size="9.6" textLength="29.78" lengthAdjust="spacingAndGlyphs">=13x10</text>
<text x="325.9" y="114.5" font-size="6.9" textLength="7.23" lengthAdjust="spacingAndGlyphs">22</text>
<text x="333.6" y="119.3" font-size="9.6" textLength="7.5" lengthAdjust="spacingAndGlyphs">m</text>
<text x="341.8" y="114.5" font-size="6.9" textLength="4.91" lengthAdjust="spacingAndGlyphs">-3</text>
</g>
</g></svg></body></html>
